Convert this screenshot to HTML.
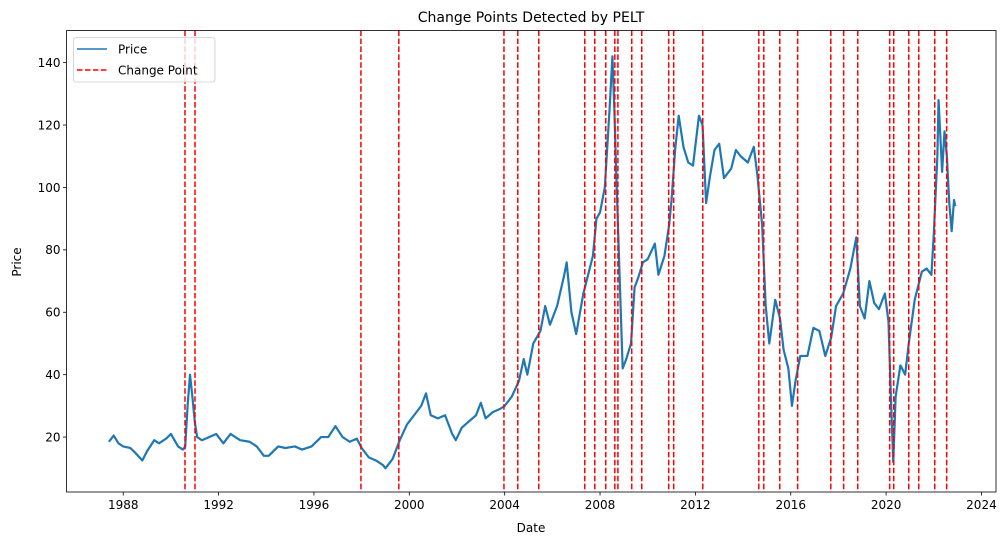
<!DOCTYPE html>
<html><head><meta charset="utf-8"><style>
html,body{margin:0;padding:0;background:#fff;}
svg text{font-family:"DejaVu Sans","Liberation Sans",sans-serif;}
</style></head><body>
<svg id="chart" width="1008" height="545" xmlns="http://www.w3.org/2000/svg">
<rect x="0" y="0" width="1008" height="545" fill="#fff"/>
<text x="531" y="22" text-anchor="middle" font-size="14" fill="#000">Change Points Detected by PELT</text>
<g id="plot"></g>
<text x="531" y="532" text-anchor="middle" font-size="12">Date</text>
<text x="21" y="262" text-anchor="middle" font-size="12" transform="rotate(-90 21 262)">Price</text>
</svg>
<script>
const dates = [1987.4,1987.6,1987.8,1988.0,1988.3,1988.5,1988.8,1989.0,1989.3,1989.5,1989.8,1990.0,1990.3,1990.5,1990.6,1990.7,1990.8,1990.9,1991.0,1991.1,1991.3,1991.6,1991.9,1992.2,1992.5,1992.9,1993.3,1993.6,1993.9,1994.1,1994.5,1994.8,1995.2,1995.5,1995.9,1996.3,1996.6,1996.9,1997.2,1997.5,1997.8,1998.0,1998.3,1998.6,1998.9,1999.0,1999.3,1999.6,1999.9,2000.2,2000.5,2000.7,2000.9,2001.2,2001.5,2001.8,2001.95,2002.2,2002.5,2002.8,2003.0,2003.2,2003.5,2003.8,2004.0,2004.3,2004.6,2004.8,2004.95,2005.2,2005.5,2005.7,2005.9,2006.2,2006.5,2006.6,2006.8,2007.0,2007.3,2007.5,2007.7,2007.85,2008.0,2008.2,2008.4,2008.52,2008.6,2008.7,2008.85,2008.95,2009.1,2009.3,2009.45,2009.6,2009.8,2010.0,2010.3,2010.45,2010.7,2010.9,2011.0,2011.15,2011.3,2011.5,2011.7,2011.9,2012.15,2012.3,2012.45,2012.6,2012.8,2013.0,2013.2,2013.5,2013.7,2013.9,2014.2,2014.45,2014.6,2014.8,2014.95,2015.1,2015.35,2015.55,2015.7,2015.9,2016.05,2016.2,2016.4,2016.7,2016.95,2017.2,2017.45,2017.7,2017.9,2018.2,2018.5,2018.75,2018.9,2019.1,2019.3,2019.5,2019.7,2019.95,2020.1,2020.2,2020.3,2020.4,2020.6,2020.8,2020.95,2021.2,2021.5,2021.7,2021.9,2022.0,2022.15,2022.2,2022.35,2022.45,2022.55,2022.65,2022.75,2022.85,2022.9];
const prices = [18.5,20.5,18,17,16.5,15,12.5,15.5,19,18,19.5,21,17,16,17,30,40,33,25,20,19,20,21,18,21,19,18.5,17,14,14,17,16.5,17,16,17,20,20,23.5,20,18.5,19.5,16.5,13.5,12.5,11,10,13,19,24,27,30,34,27,26,27,21,19,23,25,27,31,26,28,29,30,33,38,45,40,50,54,62,56,62,72,76,60,53,66,72,78,90,92,100,125,142,125,100,65,42,45,50,68,71,76,77,82,72,78,88,96,112,123,113,108,107,123,120,95,103,112,114,103,106,112,110,108,113,104,88,62,50,64,58,48,42,30,38,46,46,55,54,46,52,62,66,74,84,62,58,70,63,61,66,57,33,12,33,43,40,50,64,73,74,72,85,110,128,105,118,110,95,86,96,94];
const changePoints = [1990.59,1991.01,1997.97,1999.56,2003.97,2004.55,2005.43,2007.36,2007.78,2008.24,2008.62,2008.75,2009.33,2009.75,2010.88,2011.09,2012.31,2014.66,2014.87,2015.54,2016.29,2017.68,2018.22,2018.81,2020.15,2020.32,2020.95,2021.37,2022.04,2022.54];
const xTicks = [1988,1992,1996,2000,2004,2008,2012,2016,2020,2024];
const yTicks = [20,40,60,80,100,120,140];

const L=66.5,R=996,T=30.5,B=492;
const X0=1985.62, X1=2024.61, Y0=2.4, Y1=150.3;
function xs(v){return L+(v-X0)/(X1-X0)*(R-L);}
function ys(v){return B-(v-Y0)/(Y1-Y0)*(B-T);}
const NS="http://www.w3.org/2000/svg";
const g=document.getElementById('plot');
function mk(tag,attrs,parent){const e=document.createElementNS(NS,tag);for(const k in attrs)e.setAttribute(k,attrs[k]);(parent||g).appendChild(e);return e;}

let d='';
for(let i=0;i<dates.length;i++){d+=(i?'L':'M')+xs(dates[i]).toFixed(2)+','+ys(prices[i]).toFixed(2);}
const line=mk('path',{d:d,fill:'none',stroke:'#1f77b4','stroke-width':2.2,'stroke-linejoin':'round'});



changePoints.forEach(cp=>{
  const l=mk('line',{x1:xs(cp),x2:xs(cp),y1:T,y2:B,stroke:'#ff0000','stroke-width':1.5,'stroke-dasharray':'5.55,2.4'});
  
  
});

const fr=mk('rect',{x:L,y:T,width:R-L,height:B-T,fill:'none',stroke:'#000','stroke-width':0.8});



xTicks.forEach(t=>{
  const x=xs(t);
  const tk=mk('line',{x1:x,x2:x,y1:B,y2:B+3.5,stroke:'#000','stroke-width':0.8});
  
  
  const tx=mk('text',{x:x,y:B+17,'text-anchor':'middle','font-size':12});
  tx.textContent=t;
  
  
});
yTicks.forEach(t=>{
  const y=ys(t);
  const tk=mk('line',{x1:L-3.5,x2:L,y1:y,y2:y,stroke:'#000','stroke-width':0.8});
  
  
  const tx=mk('text',{x:L-6,y:y+4.3,'text-anchor':'end','font-size':12});
  tx.textContent=t;
  
  
});

const lg=mk('g',{});


mk('rect',{x:73.5,y:37.5,width:141.5,height:44.5,rx:2.5,fill:'#fff','fill-opacity':0.8,stroke:'#cccccc','stroke-width':0.8},lg);
const e1=mk('g',{},lg);


mk('line',{x1:77,x2:107,y1:49,y2:49,stroke:'#1f77b4','stroke-width':1.5},e1);
const t1=mk('text',{x:118,y:53.5,'font-size':12},e1);t1.textContent='Price';
const e2=mk('g',{},lg);


mk('line',{x1:77,x2:107,y1:70,y2:70,stroke:'#ff0000','stroke-width':1.5,'stroke-dasharray':'5.55,2.4'},e2);
const t2=mk('text',{x:118,y:74.5,'font-size':12},e2);t2.textContent='Change Point';
</script>
</body></html>
